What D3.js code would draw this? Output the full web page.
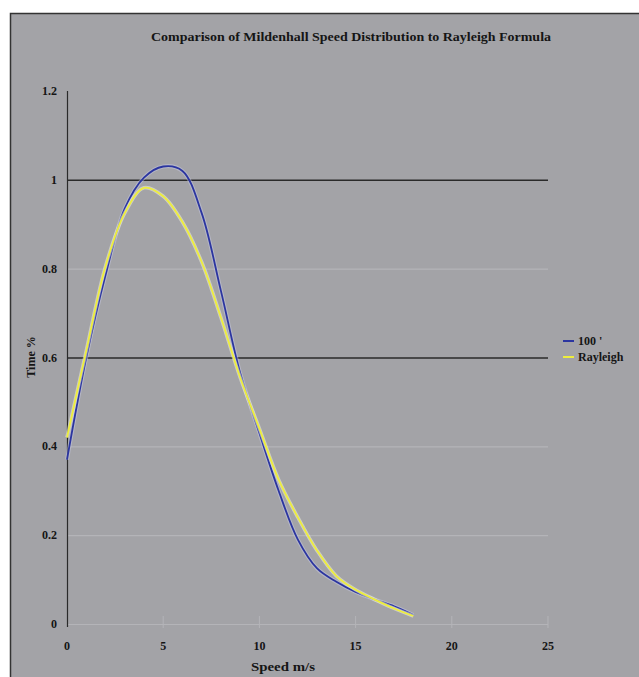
<!DOCTYPE html>
<html lang="en">
    <head>
        <meta charset="utf-8">
        <title>Mildenhall vs Rayleigh</title>
        <script src="https://d3js.org/d3.v7.min.js"></script>
        <style>
            body { margin: 0; background: #fff; }
            text { font-family: "Liberation Serif", "Times New Roman", serif; font-weight: bold; fill: #151515; }
        </style>
    </head>
    <body>
        <div id="chart"></div>
        <script>
            // values
            var speeds   = [0, 1, 2, 3, 4, 5, 6, 7, 8, 9, 10, 11, 12, 13, 14, 15, 16, 17, 18];
            var measured = [0.37, 0.60, 0.785, 0.935, 1.005, 1.03, 1.02, 0.925, 0.75, 0.565, 0.43, 0.30, 0.19, 0.125, 0.095, 0.072, 0.055, 0.04, 0.02];
            var rayleigh = [0.42, 0.615, 0.805, 0.925, 0.982, 0.963, 0.905, 0.815, 0.69, 0.555, 0.44, 0.325, 0.24, 0.165, 0.108, 0.077, 0.055, 0.035, 0.018];
            var yTicks = [0, 0.2, 0.4, 0.6, 0.8, 1, 1.2];
            var xTicks = [0, 5, 10, 15, 20, 25];
            var darkLines = [0.6, 1];
            var seriesNames = ["100 '", "Rayleigh"];

            var W = 639, H = 677;
            var svg = d3.select("#chart").append("svg")
                        .attr("width", W).attr("height", H);

            // grey chart area with a dark frame on top / left
            svg.append("rect").attr("x", 10).attr("y", 13)
               .attr("width", W - 10).attr("height", H - 13)
               .attr("fill", "#a3a3a7");
            svg.append("path").attr("d", "M10.5," + H + "V13.5H" + W)
               .attr("fill", "none").attr("stroke", "#333").attr("stroke-width", 1.5);

            var x = d3.scaleLinear().domain([0, 25]).range([67, 548]);
            var y = d3.scaleLinear().domain([0, 1.2]).range([624, 91]);

            // gridlines
            svg.selectAll(".grid").data(yTicks.slice(0, 6)).enter()
               .append("line")
               .attr("x1", x(0)).attr("x2", x(25))
               .attr("y1", function(d) { return y(d) + 0.5; })
               .attr("y2", function(d) { return y(d) + 0.5; })
               .attr("stroke", function(d) { return darkLines.indexOf(d) >= 0 ? "#2a2a2a" : "#b4b4b8"; })
               .attr("stroke-width", function(d) { return darkLines.indexOf(d) >= 0 ? 1.5 : 1.2; });

            // y axis
            svg.append("line").attr("x1", x(0) + 0.5).attr("x2", x(0) + 0.5)
               .attr("y1", y(1.2)).attr("y2", y(0) + 3)
               .attr("stroke", "#2a2a2a").attr("stroke-width", 1.2);

            svg.selectAll(".ylab").data(yTicks).enter()
               .append("text")
               .attr("x", 57)
               .attr("y", function(d) { return y(d) + 4; })
               .attr("text-anchor", "end")
               .style("font-size", "12px")
               .text(function(d) { return d; });

            svg.selectAll(".xlab").data(xTicks).enter()
               .append("text")
               .attr("x", function(d) { return x(d); })
               .attr("y", 650)
               .attr("text-anchor", "middle")
               .style("font-size", "12px")
               .text(function(d) { return d; });

            // faint tick marks at the bottom
            svg.selectAll(".xtick").data(xTicks.slice(1)).enter()
               .append("line")
               .attr("x1", function(d) { return x(d); })
               .attr("x2", function(d) { return x(d); })
               .attr("y1", y(0) - 8).attr("y2", y(0) + 4)
               .attr("stroke", "#b4b4b8");

            // titles
            svg.append("text").attr("x", 351).attr("y", 41)
               .attr("text-anchor", "middle").style("font-size", "12px")
               .attr("textLength", 400).attr("lengthAdjust", "spacingAndGlyphs")
               .text("Comparison of Mildenhall Speed Distribution to Rayleigh Formula");
            svg.append("text").attr("x", 283).attr("y", 671)
               .attr("text-anchor", "middle").style("font-size", "12px")
               .attr("textLength", 64).attr("lengthAdjust", "spacingAndGlyphs")
               .text("Speed m/s");
            svg.append("text")
               .attr("transform", "translate(35," + 357 + ") rotate(-90)")
               .attr("text-anchor", "middle").style("font-size", "12px")
               .text("Time %");

            // curves
            var line = d3.line()
                         .x(function(d) { return x(d[0]); })
                         .y(function(d) { return y(d[1]); })
                         .curve(d3.curveCatmullRom.alpha(0.5));

            var rayPts = speeds.map(function(s, i) { return [s, rayleigh[i]]; });
            var measPts = speeds.map(function(s, i) { return [s, measured[i]]; });

            svg.append("path").attr("d", line(measPts))
               .attr("fill", "none").attr("stroke", "#c9cbe8").attr("stroke-width", 4).attr("opacity", 0.45);
            svg.append("path").attr("d", line(measPts))
               .attr("fill", "none").attr("stroke", "#2b35a0").attr("stroke-width", 1.8);

            svg.append("path").attr("d", line(rayPts))
               .attr("fill", "none").attr("stroke", "#ecece0").attr("stroke-width", 3.6).attr("opacity", 0.55);
            svg.append("path").attr("d", line(rayPts))
               .attr("fill", "none").attr("stroke", "#eeee3c").attr("stroke-width", 1.8);

            // legend
            var colors = ["#2b35a0", "#eeee3c"];
            var leg = svg.selectAll(".leg").data(seriesNames).enter()
                         .append("g")
                         .attr("transform", function(d, i) { return "translate(563," + (341 + i * 16) + ")"; });
            leg.append("line").attr("x1", 0).attr("x2", 11)
               .attr("stroke", function(d, i) { return colors[i]; }).attr("stroke-width", 2);
            leg.append("text").attr("x", 15).attr("y", 4)
               .style("font-size", "12px")
               .text(function(d) { return d; });
        </script>
    </body>
</html>
